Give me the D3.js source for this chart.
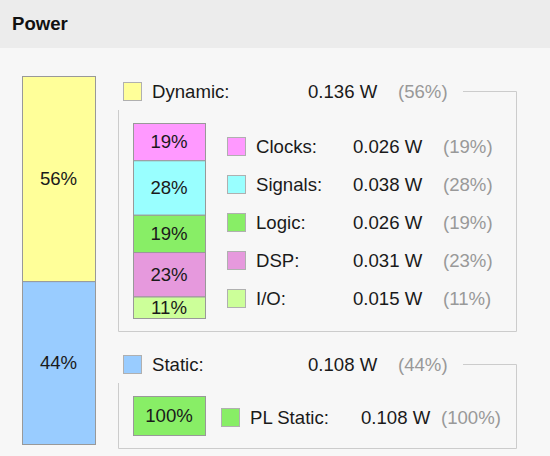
<!DOCTYPE html>
<html>
<head>
<meta charset="utf-8">
<script src="https://cdn.jsdelivr.net/npm/d3@7"></script>
<style>
  html, body { margin: 0; padding: 0; background: #f7f7f7; }
  svg { display: block; font-family: "Liberation Sans", Arial, sans-serif; }
</style>
</head>
<body>
<div id="chart"></div>
<script>
// --- data ---
const groups      = ["Dynamic", "Static"];
const groupWatts  = [0.136, 0.108];
const groupPcts   = [56, 44];
const groupColors = ["#ffff99", "#99ccff"];

const dynParts  = ["Clocks", "Signals", "Logic", "DSP", "I/O"];
const dynWatts  = [0.026, 0.038, 0.026, 0.031, 0.015];
const dynPcts   = [19, 28, 19, 23, 11];
const dynColors = ["#ff99ff", "#99ffff", "#88ee66", "#e699dd", "#ccff99"];

const staticParts  = ["PL Static"];
const staticWatts  = [0.108];
const staticPcts   = [100];
const staticColors = ["#88ee66"];

const W = 550, H = 456;
const FS = 18.6;
const textDark = "#1a1a1a", textGray = "#999", boxLine = "#cccccc", barLine = "#999999";

const svg = d3.select("#chart").append("svg")
  .attr("width", W).attr("height", H);

// header band
svg.append("rect").attr("x", 0).attr("y", 0).attr("width", W).attr("height", 48).attr("fill", "#ececec");
svg.append("rect").attr("x", 0).attr("y", 48).attr("width", W).attr("height", H - 48).attr("fill", "#f7f7f7");
svg.append("text").attr("x", 12).attr("y", 30)
  .attr("font-size", FS).attr("font-weight", 700).attr("fill", "#111")
  .text("Power");

// helper: stack values into [start, end] pairs
function stack(vals) {
  let acc = 0;
  return vals.map(v => { const s = acc; acc += v; return [s, acc]; });
}

// helper: draw one stacked column
function column(g, x0, x1, yScale, vals, pcts, colors) {
  const st = stack(vals);
  const seg = g.selectAll("g.seg").data(vals).enter().append("g").attr("class", "seg");
  seg.append("rect")
    .attr("x", x0 + 0.5)
    .attr("y", (d, i) => yScale(st[i][0]) + 0.5)
    .attr("width", x1 - x0)
    .attr("height", (d, i) => yScale(st[i][1]) - yScale(st[i][0]))
    .attr("fill", (d, i) => colors[i])
    .attr("stroke", barLine);
  seg.append("text")
    .attr("x", (x0 + x1) / 2)
    .attr("y", (d, i) => (yScale(st[i][0]) + yScale(st[i][1])) / 2)
    .attr("dy", "0.36em")
    .attr("text-anchor", "middle")
    .attr("font-size", FS)
    .attr("fill", textDark)
    .text((d, i) => pcts[i] + "%");
}

// helper: legend row
function legendRow(g, xSw, y, color, label, xLabel, watts, xVal, pct, xPct) {
  g.append("rect")
    .attr("x", xSw + 0.5).attr("y", y - 9 + 0.5)
    .attr("width", 18).attr("height", 18)
    .attr("fill", color).attr("stroke", "#b0b0b0");
  g.append("text").attr("x", xLabel).attr("y", y).attr("dy", "0.36em")
    .attr("font-size", FS).attr("fill", textDark).text(label + ":");
  g.append("text").attr("x", xVal).attr("y", y).attr("dy", "0.36em")
    .attr("font-size", FS).attr("fill", textDark).text(d3.format(".3f")(watts) + " W");
  g.append("text").attr("x", xPct).attr("y", y).attr("dy", "0.36em")
    .attr("font-size", FS).attr("fill", textGray).text("(" + pct + "%)");
}

// --- outer total column ---
const total = d3.sum(groupWatts);
const yOuter = d3.scaleLinear().domain([0, total]).range([76, 444]);
column(svg.append("g"), 22, 95, yOuter, groupWatts, groupPcts, groupColors);

// --- group boxes ---
const groupY = [91, 364];          // legend heading rows
const boxTop = [110, 383];         // where left side starts
const boxBottom = [331, 448];
const line = d3.line();
groups.forEach((name, i) => {
  const g = svg.append("g");
  g.append("path")
    .attr("d", line([[118.5, boxTop[i]], [118.5, boxBottom[i] + 0.5], [516.5, boxBottom[i] + 0.5],
                     [516.5, groupY[i] + 0.5], [463, groupY[i] + 0.5]]))
    .attr("fill", "none").attr("stroke", boxLine);
  legendRow(g, 123, groupY[i], groupColors[i], name, 152, groupWatts[i], 308, groupPcts[i], 398);
});

// --- dynamic breakdown ---
const yDyn = d3.scaleLinear().domain([0, d3.sum(dynWatts)]).range([123, 318]);
const dynG = svg.append("g");
column(dynG, 133, 205, yDyn, dynWatts, dynPcts, dynColors);
const dynRows = d3.scalePoint().domain(dynParts).range([146, 298]);
dynParts.forEach((p, i) => {
  legendRow(dynG, 227, dynRows(p), dynColors[i], p, 256, dynWatts[i], 353, dynPcts[i], 443);
});

// --- static breakdown ---
const yStat = d3.scaleLinear().domain([0, d3.sum(staticWatts)]).range([396, 435]);
const statG = svg.append("g");
column(statG, 133, 205, yStat, staticWatts, staticPcts, staticColors);
staticParts.forEach((p, i) => {
  legendRow(statG, 221, 417, staticColors[i], p, 250, staticWatts[i], 361, staticPcts[i], 441);
});
</script>
</body>
</html>
